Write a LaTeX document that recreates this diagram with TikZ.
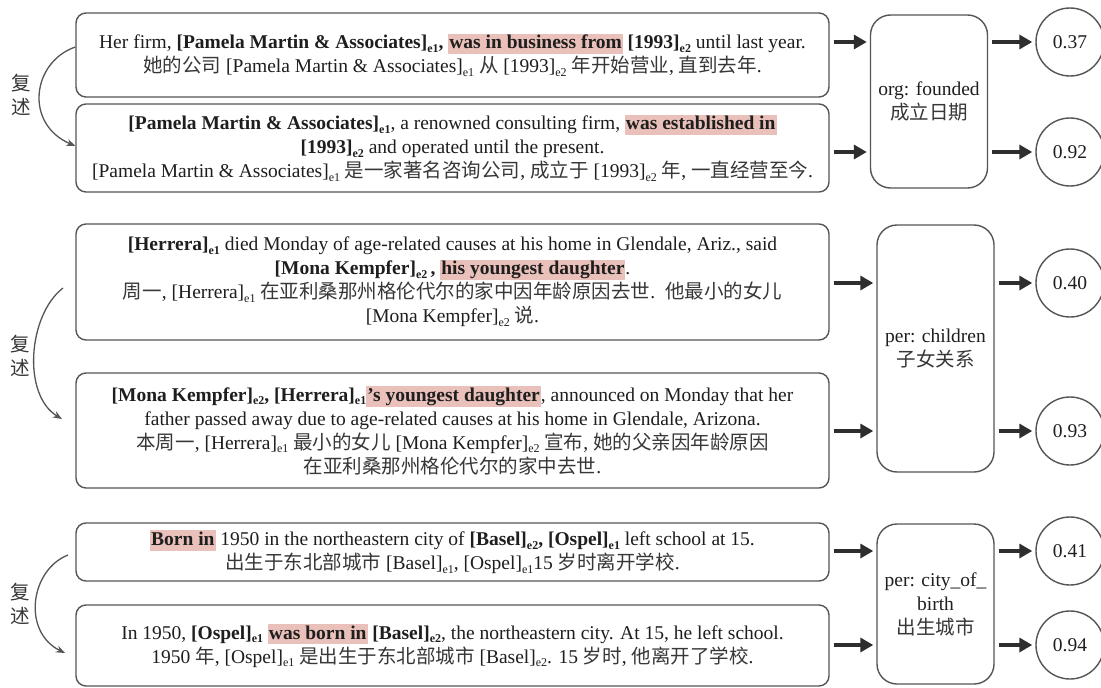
\documentclass[tikz,border=0pt]{standalone}
\usepackage{fontspec}
\setmainfont{Liberation Serif}
\newfontfamily\cjk{Noto Sans CJK SC}
\usetikzlibrary{arrows.meta}
\definecolor{hlpink}{RGB}{234,192,186}
\definecolor{edge}{RGB}{85,85,85}
\definecolor{ink}{RGB}{30,30,30}
\definecolor{zhink}{RGB}{55,55,55}
\newcommand\zh[1]{{\cjk\color{zhink}#1}}
\newcommand\es[1]{\raisebox{-3.5pt}{\fontsize{12}{12}\selectfont #1}}
\newcommand\hl[1]{{\setlength\fboxsep{1pt}\colorbox{hlpink}{\rule[-0.22em]{0pt}{0.95em}#1}}}
\begin{document}
\begin{tikzpicture}[x=1pt,y=-1pt,
 txt/.style={font=\fontsize{19.5}{24}\selectfont, text=ink, align=center},
 lbox/.style={txt, draw=edge, line width=1.4pt, rounded corners=10pt, inner sep=0pt, minimum width=753pt},
 rbox/.style={txt, draw=edge, line width=1.4pt, rounded corners=20pt, inner sep=0pt, minimum width=117pt},
 score/.style={txt, draw=edge, line width=1.4pt, circle, minimum size=68pt, inner sep=0pt},
 arr/.style={draw=black!82, line width=3.5pt, -{Triangle[length=13pt,width=14pt]}, shorten <=4pt, shorten >=3pt},
 curv/.style={draw=edge, line width=1.3pt, -{Stealth[length=9pt,width=7pt]}},
 side/.style={font=\fontsize{19.5}{24}\selectfont\cjk, text=zhink, align=center, inner sep=0pt}
]
\fill[white] (0,0) rectangle (1101,688);
\useasboundingbox (0,0) rectangle (1101,688);

% ---------- block 1 ----------
\node[lbox, minimum height=84pt] (a1) at (452.5,55)
 {Her firm, \textbf{[Pamela Martin \& Associates]\es{e1}, \hl{was in business from} [1993]\es{e2}} until last year.\\
  \zh{她的公司} [Pamela Martin \& Associates]\es{e1} \zh{从} [1993]\es{e2} \zh{年开始营业}, \zh{直到去年}.};
\node[lbox, minimum height=88pt] (a2) at (452.5,148)
 {\textbf{[Pamela Martin \& Associates]\es{e1}}, a renowned consulting firm, \textbf{\hl{was established in}}\\
  \textbf{[1993]\es{e2}} and operated until the present.\\
  {}[Pamela Martin \& Associates]\es{e1} \zh{是一家著名咨询公司}, \zh{成立于} [1993]\es{e2} \zh{年}, \zh{一直经营至今}.};
\node[rbox, minimum height=173pt] (r1) at (929,101.5) {org: founded\\\zh{成立日期}};
\node[score] (o1) at (1070,42) {0.37};
\node[score] (o2) at (1070,152) {0.92};
\draw[arr] (a1.east |- o1) -- (r1.west |- o1);
\draw[arr] (a2.east |- o2) -- (r1.west |- o2);
\draw[arr] (r1.east |- o1) -- (o1.west);
\draw[arr] (r1.east |- o2) -- (o2.west);
\node[side] (s1) at (21,95) {复\\述};
\draw[curv] (a1.west |- 0,47) .. controls (32,62) and (24,124) .. (a2.west |- 0,146);

% ---------- block 2 ----------
\node[lbox, minimum height=116pt] (b1) at (452.5,282)
 {\textbf{[Herrera]\es{e1}} died Monday of age-related causes at his home in Glendale, Ariz., said\\
  \textbf{[Mona Kempfer]\es{e2}\,, \hl{his youngest daughter}}.\\
  \zh{周一}, [Herrera]\es{e1} \zh{在亚利桑那州格伦代尔的家中因年龄原因去世}.\ \ \zh{他最小的女儿}\\
  {}[Mona Kempfer]\es{e2} \zh{说}.};
\node[lbox, minimum height=115pt] (b2) at (452.5,430.5)
 {\textbf{[Mona Kempfer]\es{e2}, [Herrera]\es{e1}\hl{’s youngest daughter}}, announced on Monday that her\\
  father passed away due to age-related causes at his home in Glendale, Arizona.\\
  \zh{本周一}, [Herrera]\es{e1} \zh{最小的女儿} [Mona Kempfer]\es{e2} \zh{宣布}, \zh{她的父亲因年龄原因}\\
  \zh{在亚利桑那州格伦代尔的家中去世}.};
\node[rbox, minimum height=247pt] (r2) at (935.5,348.5) {per: children\\\zh{子女关系}};
\node[score] (o3) at (1070,283) {0.40};
\node[score] (o4) at (1070,431) {0.93};
\draw[arr] (b1.east |- o3) -- (r2.west |- o3);
\draw[arr] (b2.east |- o4) -- (r2.west |- o4);
\draw[arr] (r2.east |- o3) -- (o3.west);
\draw[arr] (r2.east |- o4) -- (o4.west);
\node[side] (s2) at (20,356) {复\\述};
\draw[curv] (63,288) .. controls (28,315) and (22,395) .. (62,419);

% ---------- block 3 ----------
\node[lbox, minimum height=58pt] (c1) at (452.5,552)
 {\textbf{\hl{Born in}} 1950 in the northeastern city of \textbf{[Basel]\es{e2}, [Ospel]\es{e1}} left school at 15.\\
  \zh{出生于东北部城市} [Basel]\es{e1}, [Ospel]\es{e1}15 \zh{岁时离开学校}.};
\node[lbox, minimum height=81pt] (c2) at (452.5,645.5)
 {In 1950, \textbf{[Ospel]\es{e1}} \textbf{\hl{was born in}} \textbf{[Basel]\es{e2}}, the northeastern city. At 15, he left school.\\
  1950 \zh{年}, [Ospel]\es{e1} \zh{是出生于东北部城市} [Basel]\es{e2}. 15 \zh{岁时}, \zh{他离开了学校}.};
\node[rbox, minimum height=160pt] (r3) at (935.5,604) {per: city\_of\_\\birth\\\zh{出生城市}};
\node[score] (o5) at (1070,551) {0.41};
\node[score] (o6) at (1070,645) {0.94};
\draw[arr] (c1.east |- o5) -- (r3.west |- o5);
\draw[arr] (c2.east |- o6) -- (r3.west |- o6);
\draw[arr] (r3.east |- o5) -- (o5.west);
\draw[arr] (r3.east |- o6) -- (o6.west);
\node[side] (s3) at (20,604) {复\\述};
\draw[curv] (68,555) .. controls (30,570) and (22,632) .. (65,653);
\end{tikzpicture}
\end{document}
